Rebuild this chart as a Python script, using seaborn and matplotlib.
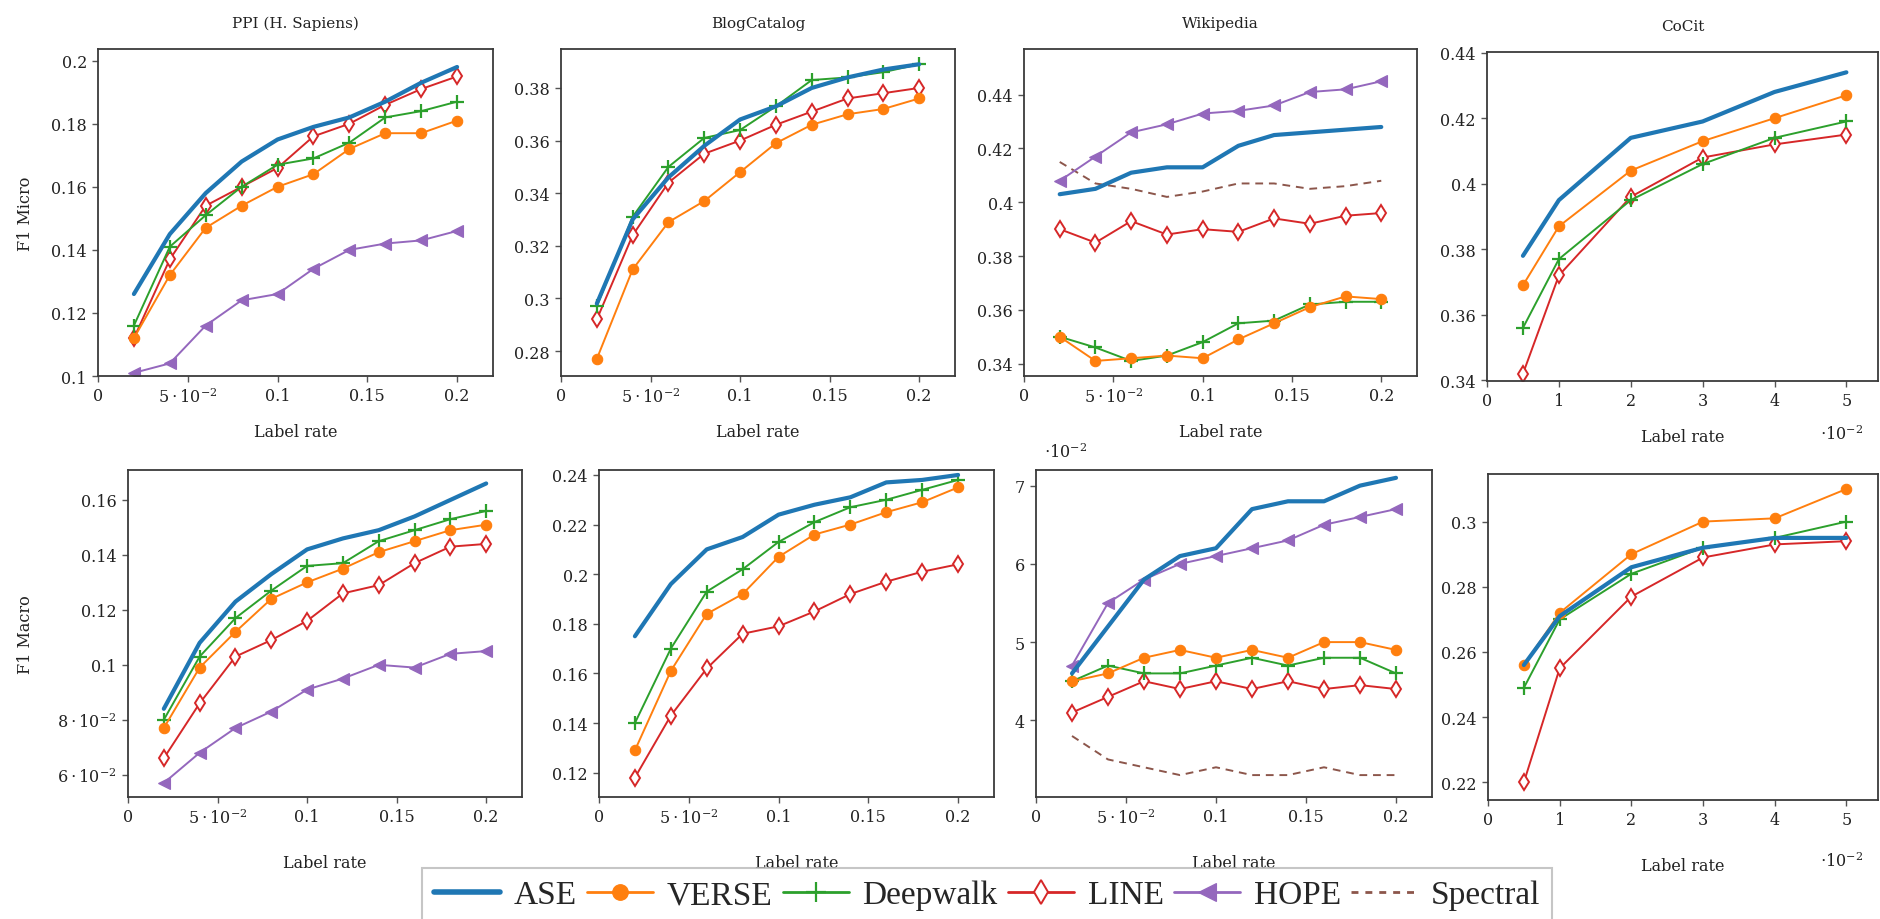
import numpy as np
import pandas as pd
import matplotlib
matplotlib.use("Agg")
import matplotlib.pyplot as plt
from matplotlib.lines import Line2D
from matplotlib.ticker import FuncFormatter, FixedLocator
import seaborn as sns

# ---------------- data ----------------
methods = ["ASE", "VERSE", "Deepwalk", "LINE", "HOPE", "Spectral"]
datasets = ["PPI (H. Sapiens)", "BlogCatalog", "Wikipedia", "CoCit"]
metrics = ["F1 Micro", "F1 Macro"]

label_rate = [0.02, 0.04, 0.06, 0.08, 0.10, 0.12, 0.14, 0.16, 0.18, 0.20]
label_rate_cocit = [0.005, 0.01, 0.02, 0.03, 0.04, 0.05]

# PPI - F1 Micro
ppi_micro_ase = [0.126, 0.145, 0.158, 0.168, 0.175, 0.179, 0.182, 0.187, 0.193, 0.198]
ppi_micro_verse = [0.112, 0.132, 0.147, 0.154, 0.160, 0.164, 0.172, 0.177, 0.177, 0.181]
ppi_micro_deepwalk = [0.116, 0.141, 0.151, 0.160, 0.167, 0.169, 0.174, 0.182, 0.184, 0.187]
ppi_micro_line = [0.112, 0.137, 0.154, 0.160, 0.166, 0.176, 0.180, 0.186, 0.191, 0.195]
ppi_micro_hope = [0.101, 0.104, 0.116, 0.124, 0.126, 0.134, 0.140, 0.142, 0.143, 0.146]

# BlogCatalog - F1 Micro
blog_micro_ase = [0.298, 0.330, 0.346, 0.358, 0.368, 0.373, 0.380, 0.384, 0.387, 0.389]
blog_micro_verse = [0.277, 0.311, 0.329, 0.337, 0.348, 0.359, 0.366, 0.370, 0.372, 0.376]
blog_micro_deepwalk = [0.297, 0.331, 0.350, 0.361, 0.364, 0.373, 0.383, 0.384, 0.386, 0.389]
blog_micro_line = [0.292, 0.324, 0.344, 0.355, 0.360, 0.366, 0.371, 0.376, 0.378, 0.380]

# Wikipedia - F1 Micro
wiki_micro_ase = [0.403, 0.405, 0.411, 0.413, 0.413, 0.421, 0.425, 0.426, 0.427, 0.428]
wiki_micro_verse = [0.350, 0.341, 0.342, 0.343, 0.342, 0.349, 0.355, 0.361, 0.365, 0.364]
wiki_micro_deepwalk = [0.350, 0.346, 0.341, 0.343, 0.348, 0.355, 0.356, 0.362, 0.363, 0.363]
wiki_micro_line = [0.390, 0.385, 0.393, 0.388, 0.390, 0.389, 0.394, 0.392, 0.395, 0.396]
wiki_micro_hope = [0.408, 0.417, 0.426, 0.429, 0.433, 0.434, 0.436, 0.441, 0.442, 0.445]
wiki_micro_spectral = [0.415, 0.407, 0.405, 0.402, 0.404, 0.407, 0.407, 0.405, 0.406, 0.408]

# CoCit - F1 Micro
cocit_micro_ase = [0.378, 0.395, 0.414, 0.419, 0.428, 0.434]
cocit_micro_verse = [0.369, 0.387, 0.404, 0.413, 0.420, 0.427]
cocit_micro_deepwalk = [0.356, 0.377, 0.395, 0.406, 0.414, 0.419]
cocit_micro_line = [0.342, 0.372, 0.396, 0.408, 0.412, 0.415]

# PPI - F1 Macro
ppi_macro_ase = [0.084, 0.108, 0.123, 0.133, 0.142, 0.146, 0.149, 0.154, 0.160, 0.166]
ppi_macro_verse = [0.077, 0.099, 0.112, 0.124, 0.130, 0.135, 0.141, 0.145, 0.149, 0.151]
ppi_macro_deepwalk = [0.080, 0.103, 0.117, 0.127, 0.136, 0.137, 0.145, 0.149, 0.153, 0.156]
ppi_macro_line = [0.066, 0.086, 0.103, 0.109, 0.116, 0.126, 0.129, 0.137, 0.143, 0.144]
ppi_macro_hope = [0.057, 0.068, 0.077, 0.083, 0.091, 0.095, 0.100, 0.099, 0.104, 0.105]

# BlogCatalog - F1 Macro
blog_macro_ase = [0.175, 0.196, 0.210, 0.215, 0.224, 0.228, 0.231, 0.237, 0.238, 0.240]
blog_macro_verse = [0.129, 0.161, 0.184, 0.192, 0.207, 0.216, 0.220, 0.225, 0.229, 0.235]
blog_macro_deepwalk = [0.140, 0.170, 0.193, 0.202, 0.213, 0.221, 0.227, 0.230, 0.234, 0.238]
blog_macro_line = [0.118, 0.143, 0.162, 0.176, 0.179, 0.185, 0.192, 0.197, 0.201, 0.204]

# Wikipedia - F1 Macro
wiki_macro_ase = [0.046, 0.052, 0.058, 0.061, 0.062, 0.067, 0.068, 0.068, 0.070, 0.071]
wiki_macro_verse = [0.045, 0.046, 0.048, 0.049, 0.048, 0.049, 0.048, 0.050, 0.050, 0.049]
wiki_macro_deepwalk = [0.045, 0.047, 0.046, 0.046, 0.047, 0.048, 0.047, 0.048, 0.048, 0.046]
wiki_macro_line = [0.041, 0.043, 0.045, 0.044, 0.045, 0.044, 0.045, 0.044, 0.0445, 0.044]
wiki_macro_hope = [0.047, 0.055, 0.058, 0.060, 0.061, 0.062, 0.063, 0.065, 0.066, 0.067]
wiki_macro_spectral = [0.038, 0.035, 0.034, 0.033, 0.034, 0.033, 0.033, 0.034, 0.033, 0.033]

# CoCit - F1 Macro
cocit_macro_ase = [0.256, 0.271, 0.286, 0.292, 0.295, 0.295]
cocit_macro_verse = [0.256, 0.272, 0.290, 0.300, 0.301, 0.310]
cocit_macro_deepwalk = [0.249, 0.270, 0.284, 0.292, 0.295, 0.300]
cocit_macro_line = [0.220, 0.255, 0.277, 0.289, 0.293, 0.294]

# ---------------- style ----------------
sns.set_style("ticks")
plt.rcParams["font.family"] = ["DejaVu Serif"]
plt.rcParams["mathtext.fontset"] = "dejavuserif"

colors = {"ASE": "#1f77b4", "VERSE": "#ff7f0e", "Deepwalk": "#2ca02c",
          "LINE": "#d62728", "HOPE": "#9467bd", "Spectral": "#8c564b"}
styles = {
    "ASE": dict(lw=3.0, marker=None),
    "VERSE": dict(lw=1.4, marker="o", ms=7.5, mfc=colors["VERSE"], mec=colors["VERSE"], mew=0.8),
    "Deepwalk": dict(lw=1.4, marker="+", ms=10, mew=1.6, mec=colors["Deepwalk"]),
    "LINE": dict(lw=1.4, marker="d", ms=8, mfc="white", mec=colors["LINE"], mew=1.4),
    "HOPE": dict(lw=1.4, marker="<", ms=9, mfc=colors["HOPE"], mec=colors["HOPE"], mew=0.8),
    "Spectral": dict(lw=1.4, marker=None, ls=(0, (4, 3))),
}

W, H = 1880, 920
fig = plt.figure(figsize=(W / 100, H / 100), dpi=100)


def rect(l, r, t, b):
    return [l / W, 1 - b / H, (r - l) / W, (b - t) / H]


def pgf_fmt(v, pos):
    if abs(v) < 1e-12:
        return "0"
    if abs(v) < 0.1 - 1e-9:
        return r"$%g\cdot10^{-2}$" % round(v * 100, 6)
    return "%g" % round(v, 6)


def scaled_fmt(v, pos):
    return "%g" % round(v * 100, 6)


panels = [
    dict(rect=rect(98, 493, 50, 377), title=datasets[0], ylabel=metrics[0], x=label_rate,
         series={"ASE": ppi_micro_ase, "VERSE": ppi_micro_verse, "Deepwalk": ppi_micro_deepwalk,
                 "LINE": ppi_micro_line, "HOPE": ppi_micro_hope},
         ylim=(0.1, 0.2037), yticks=np.arange(0.10, 0.2001, 0.02), row=0),
    dict(rect=rect(561, 955, 50, 377), title=datasets[1], x=label_rate,
         series={"ASE": blog_micro_ase, "VERSE": blog_micro_verse, "Deepwalk": blog_micro_deepwalk,
                 "LINE": blog_micro_line},
         ylim=(0.2705, 0.3948), yticks=np.arange(0.28, 0.3801, 0.02), row=0),
    dict(rect=rect(1024, 1417, 50, 377), title=datasets[2], x=label_rate,
         series={"ASE": wiki_micro_ase, "VERSE": wiki_micro_verse, "Deepwalk": wiki_micro_deepwalk,
                 "LINE": wiki_micro_line, "HOPE": wiki_micro_hope, "Spectral": wiki_micro_spectral},
         ylim=(0.3354, 0.457), yticks=np.arange(0.34, 0.4401, 0.02), row=0),
    dict(rect=rect(1487, 1878, 53, 382), title=datasets[3], x=label_rate_cocit, cocit=True,
         series={"ASE": cocit_micro_ase, "VERSE": cocit_micro_verse, "Deepwalk": cocit_micro_deepwalk,
                 "LINE": cocit_micro_line},
         ylim=(0.3398, 0.4402), yticks=np.arange(0.34, 0.4401, 0.02), row=0),
    dict(rect=rect(128, 522, 471, 798), ylabel=metrics[1], x=label_rate,
         series={"ASE": ppi_macro_ase, "VERSE": ppi_macro_verse, "Deepwalk": ppi_macro_deepwalk,
                 "LINE": ppi_macro_line, "HOPE": ppi_macro_hope},
         ylim=(0.0519, 0.1709), yticks=np.arange(0.06, 0.1601, 0.02), row=1),
    dict(rect=rect(599, 994, 471, 798), x=label_rate,
         series={"ASE": blog_macro_ase, "VERSE": blog_macro_verse, "Deepwalk": blog_macro_deepwalk,
                 "LINE": blog_macro_line},
         ylim=(0.1102, 0.242), yticks=np.arange(0.12, 0.2401, 0.02), row=1),
    dict(rect=rect(1036, 1432, 471, 798), x=label_rate, yscaled=True,
         series={"ASE": wiki_macro_ase, "VERSE": wiki_macro_verse, "Deepwalk": wiki_macro_deepwalk,
                 "LINE": wiki_macro_line, "HOPE": wiki_macro_hope, "Spectral": wiki_macro_spectral},
         ylim=(0.0302, 0.072), yticks=np.arange(0.04, 0.0701, 0.01), row=1),
    dict(rect=rect(1488, 1878, 475, 801), x=label_rate_cocit, cocit=True,
         series={"ASE": cocit_macro_ase, "VERSE": cocit_macro_verse, "Deepwalk": cocit_macro_deepwalk,
                 "LINE": cocit_macro_line},
         ylim=(0.2146, 0.3146), yticks=np.arange(0.22, 0.3001, 0.02), row=1),
]

spine_col = "#3a3a3a"
for p in panels:
    ax = fig.add_axes(p["rect"])
    order = ["Spectral", "HOPE", "LINE", "Deepwalk", "VERSE", "ASE"]
    for m in order:
        if m not in p["series"]:
            continue
        st = dict(styles[m])
        ls = st.pop("ls", "-")
        sns.lineplot(x=p["x"], y=p["series"][m], ax=ax, color=colors[m], sort=False,
                     estimator=None, linestyle=ls, legend=False, **st)
        if ls != "-":
            ax.lines[-1].set_dashes([4, 3])
    ax.set_ylim(*p["ylim"])
    ax.yaxis.set_major_locator(FixedLocator(p["yticks"]))
    if p.get("cocit"):
        ax.set_xlim(0, 0.0544)
        ax.xaxis.set_major_locator(FixedLocator([0, 0.01, 0.02, 0.03, 0.04, 0.05]))
        ax.xaxis.set_major_formatter(FuncFormatter(scaled_fmt))
        yo = -0.161 if p["row"] == 0 else -0.187
        ax.text(0.908, yo, r"$\cdot10^{-2}$", transform=ax.transAxes, ha="center", va="center",
                fontsize=11.5, color="#222222")
    else:
        ax.set_xlim(0, 0.22)
        ax.xaxis.set_major_locator(FixedLocator([0, 0.05, 0.10, 0.15, 0.20]))
        ax.xaxis.set_major_formatter(FuncFormatter(pgf_fmt))
    if p.get("yscaled"):
        ax.yaxis.set_major_formatter(FuncFormatter(scaled_fmt))
        ax.text(0.076, 1.055, r"$\cdot10^{-2}$", transform=ax.transAxes, ha="center", va="center",
                fontsize=11.5, color="#222222")
    else:
        ax.yaxis.set_major_formatter(FuncFormatter(pgf_fmt))
    ax.tick_params(axis="both", direction="out", length=4, width=1.0, color="#555555",
                   labelsize=11.5, labelcolor="#222222", pad=4)
    for s in ax.spines.values():
        s.set_visible(True)
        s.set_color(spine_col)
        s.set_linewidth(1.3)
    ax.set_xlabel("Label rate", fontsize=11.5, color="#222222")
    ax.xaxis.set_label_coords(0.5, -0.144 if p["row"] == 0 else -0.175)
    ax.xaxis.label.set_va("top")
    if "ylabel" in p:
        ax.set_ylabel(p["ylabel"], fontsize=11.5, color="#222222")
        bb = p["rect"]
        left_px = bb[0] * W
        ax.yaxis.set_label_coords((34 - left_px) / (bb[2] * W), 0.5)
    else:
        ax.set_ylabel("")
    if "title" in p:
        ax.set_title(p["title"], fontsize=11, color="#222222", pad=16)
    ax.set_facecolor("white")

# ---------------- legend ----------------
handles = []
for m in methods:
    st = dict(styles[m])
    ls = st.pop("ls", "-")
    st.pop("lw")
    marker = st.pop("marker")
    ms = st.pop("ms", 0)
    h = Line2D([], [], color=colors[m], lw=4.0 if m == "ASE" else 2.0,
               marker=marker, markersize=ms * 1.5, **st)
    if ls != "-":
        h.set_linestyle((0, (2.5, 2.5)))
    handles.append(h)

leg = fig.legend(handles, methods, loc="upper left", bbox_to_anchor=(422 / W, 1 - 869 / H),
                 ncol=6, frameon=True, fancybox=False,
                 prop={"family": "Liberation Serif", "size": 24},
                 handlelength=2.0, handletextpad=0.4, columnspacing=0.3,
                 borderpad=0.35, borderaxespad=0)
leg.get_frame().set_edgecolor("#b8b8b8")
leg.get_frame().set_linewidth(1.5)

fig.savefig("out.png", dpi=100, facecolor="white")
